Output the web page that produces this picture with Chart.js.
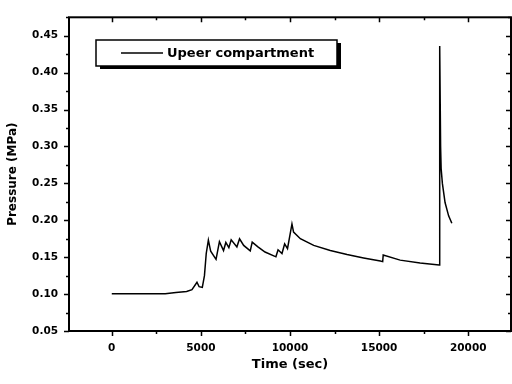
<!DOCTYPE html>
<html>
<head>
<meta charset="utf-8">
<script src="https://cdn.jsdelivr.net/npm/chart.js@4"></script>
<style>
  html, body { margin: 0; padding: 0; background: #fff; }
  #wrap { width: 512px; height: 384px; }
</style>
</head>
<body>
<div id="wrap"><canvas id="chart" width="512" height="384"></canvas></div>
<script>
// Values
const seriesLabel = 'Upeer compartment';
const timeSec = [
    0, 1000, 2000, 3000, 3600, 4200, 4500, 4780, 4900, 5080,
    5200, 5300, 5420, 5550, 5850, 6040, 6270, 6400, 6570, 6700,
    7020, 7170, 7400, 7770, 7880, 8200, 8600, 9210, 9330, 9550,
    9700, 9860, 10110, 10200, 10580, 11330, 12260, 13200, 14130, 15070,
    15200, 15230, 16180, 17300, 18370, 18400, 18450, 18480, 18550, 18700,
    18900, 19080
];
const pressureMPa = [
    0.1004, 0.1003, 0.1003, 0.1005, 0.102, 0.1035, 0.106, 0.116, 0.110, 0.109,
    0.125, 0.155, 0.173, 0.158, 0.147, 0.171, 0.159, 0.170, 0.163, 0.1735,
    0.164, 0.175, 0.166, 0.1585, 0.1705, 0.164, 0.157, 0.1505, 0.160, 0.155,
    0.168, 0.1615, 0.195, 0.184, 0.175, 0.166, 0.159, 0.1536, 0.149, 0.1448,
    0.144, 0.153, 0.146, 0.142, 0.1395, 0.436, 0.30, 0.27, 0.25, 0.224,
    0.206, 0.196
];
const xTickValues = [0, 5000, 10000, 15000, 20000];
const yTickValues = [0.05, 0.10, 0.15, 0.20, 0.25, 0.30, 0.35, 0.40, 0.45];

const X_MIN = -2400, X_MAX = 22400, X_MINOR = 2500;
const Y_MIN = 0.05, Y_MAX = 0.475, Y_MINOR = 0.025;

Chart.defaults.font.family = "'DejaVu Sans', sans-serif";
Chart.defaults.font.weight = 'bold';
Chart.defaults.color = '#000';

function isMultiple(v, step) {
    const r = v / step;
    return Math.abs(r - Math.round(r)) < 1e-6;
}

// Frame around the plot area plus major/minor tick marks
const framePlugin = {
    id: 'frame',
    afterDatasetsDraw(chart) {
        const { ctx, chartArea: a, scales } = chart;
        const xs = scales.x, ys = scales.y;
        ctx.save();
        ctx.strokeStyle = '#000';
        ctx.lineWidth = 2;
        ctx.strokeRect(a.left, a.top, a.right - a.left, a.bottom - a.top);
        ctx.lineWidth = 1.5;
        ctx.beginPath();
        for (let v = Math.ceil(X_MIN / X_MINOR) * X_MINOR; v <= X_MAX; v += X_MINOR) {
            const px = Math.round(xs.getPixelForValue(v)) + 0.5;
            const len = isMultiple(v, 2 * X_MINOR) ? 5 : 3;
            ctx.moveTo(px, a.bottom); ctx.lineTo(px, a.bottom + len);
            ctx.moveTo(px, a.top); ctx.lineTo(px, a.top + len);
        }
        for (let i = 0; Y_MIN + i * Y_MINOR <= Y_MAX + 1e-9; i++) {
            const v = Y_MIN + i * Y_MINOR;
            const py = Math.round(ys.getPixelForValue(v)) + 0.5;
            const len = i % 2 === 0 ? 5 : 3;
            ctx.moveTo(a.left - len, py); ctx.lineTo(a.left, py);
            ctx.moveTo(a.right - len, py); ctx.lineTo(a.right, py);
        }
        ctx.stroke();
        ctx.restore();
    }
};

// Boxed legend with a drop shadow
const boxLegendPlugin = {
    id: 'boxLegend',
    afterDraw(chart) {
        const { ctx } = chart;
        const ds = chart.data.datasets[0];
        const x = 96, y = 40, w = 241, h = 26;
        ctx.save();
        ctx.fillStyle = '#000';
        ctx.fillRect(x + 4, y + 3, w, h);
        ctx.fillStyle = '#fff';
        ctx.fillRect(x, y, w, h);
        ctx.strokeStyle = '#000';
        ctx.lineWidth = 1.5;
        ctx.strokeRect(x, y, w, h);
        ctx.beginPath();
        ctx.moveTo(x + 25, y + 13);
        ctx.lineTo(x + 67, y + 13);
        ctx.stroke();
        ctx.fillStyle = '#000';
        ctx.font = "bold 13px 'DejaVu Sans', sans-serif";
        ctx.textBaseline = 'middle';
        ctx.fillText(ds.label, x + 71, y + 13.5);
        ctx.restore();
    }
};

const points = timeSec.map((t, i) => ({ x: t, y: pressureMPa[i] }));

new Chart(document.getElementById('chart'), {
    type: 'line',
    data: {
        datasets: [{
            label: seriesLabel,
            data: points,
            borderColor: '#000',
            borderWidth: 1.5,
            pointRadius: 0,
            tension: 0,
            fill: false
        }]
    },
    options: {
        responsive: false,
        animation: false,
        layout: { padding: { top: 10, right: 1, bottom: 0, left: 0 } },
        plugins: {
            legend: { display: false },
            tooltip: { enabled: false }
        },
        scales: {
            x: {
                type: 'linear',
                min: X_MIN,
                max: X_MAX,
                grid: { display: false, drawTicks: false },
                border: { display: false },
                afterBuildTicks(scale) {
                    scale.ticks = xTickValues.map(v => ({ value: v }));
                },
                ticks: {
                    padding: 11,
                    maxRotation: 0,
                    autoSkip: false,
                    font: { size: 10.5, weight: 'bold' },
                    callback: (v) => String(v)
                },
                title: {
                    display: true,
                    text: 'Time (sec)',
                    font: { size: 13, weight: 'bold' },
                    padding: { top: 0, bottom: 12 }
                },
                afterFit(scale) { scale.height = 53; }
            },
            y: {
                min: Y_MIN,
                max: Y_MAX,
                grid: { display: false, drawTicks: false },
                border: { display: false },
                afterBuildTicks(scale) {
                    scale.ticks = yTickValues.map(v => ({ value: v }));
                },
                ticks: {
                    padding: 11,
                    autoSkip: false,
                    font: { size: 10.5, weight: 'bold' },
                    callback: (v) => v.toFixed(2)
                },
                title: {
                    display: true,
                    text: 'Pressure (MPa)',
                    font: { size: 12, weight: 'bold' },
                    padding: { top: 6, bottom: 0 }
                },
                afterFit(scale) { scale.width = 69; }
            }
        }
    },
    plugins: [framePlugin, boxLegendPlugin]
});
</script>
</body>
</html>
